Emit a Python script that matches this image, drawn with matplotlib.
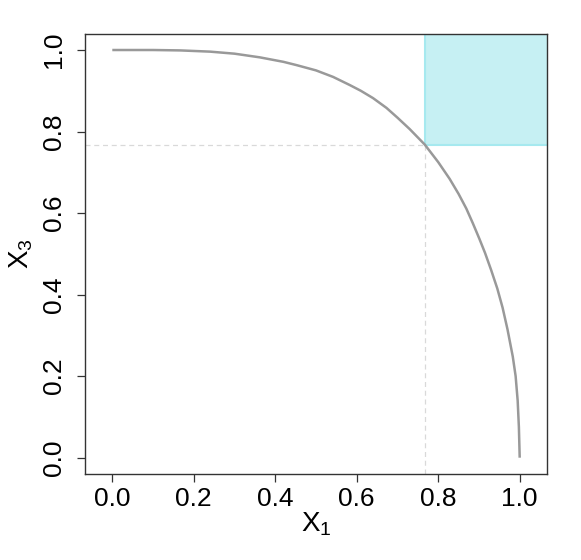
import numpy as np
import matplotlib
matplotlib.use("Agg")
import matplotlib.pyplot as plt
from matplotlib.patches import Rectangle

plt.rcParams['font.family'] = ['Liberation Sans', 'DejaVu Sans']
plt.rcParams['mathtext.fontset'] = 'custom'
plt.rcParams['mathtext.rm'] = 'Liberation Sans'
plt.rcParams['mathtext.it'] = 'Liberation Sans'

# curve points
x1 = [0.0, 0.05, 0.10, 0.167, 0.24, 0.30, 0.362, 0.42, 0.452, 0.50, 0.542,
      0.583, 0.61, 0.64, 0.673, 0.70, 0.730, 0.767, 0.80, 0.828, 0.85, 0.869,
      0.885, 0.901, 0.915, 0.930, 0.945, 0.958, 0.970, 0.983, 0.990, 0.995,
      0.998, 1.0]
x3 = [1.0, 1.0, 1.0, 0.999, 0.996, 0.991, 0.982, 0.971, 0.963, 0.950, 0.934,
      0.914, 0.900, 0.882, 0.858, 0.834, 0.806, 0.768, 0.725, 0.684, 0.647,
      0.611, 0.575, 0.537, 0.502, 0.460, 0.415, 0.368, 0.315, 0.248, 0.200,
      0.140, 0.075, 0.0]

# corner of the shaded region
cx, cy = 0.767, 0.767
ticks = [0.0, 0.2, 0.4, 0.6, 0.8, 1.0]
tick_labels = ["0.0", "0.2", "0.4", "0.6", "0.8", "1.0"]

fig = plt.figure(figsize=(5.81, 5.60), dpi=100)
ax = fig.add_axes([85/581, 86/560, 462/581, 440.3/560])

xlim = (-0.067, 1.067)
ylim = (-0.04, 1.04)
ax.set_xlim(xlim)
ax.set_ylim(ylim)

ax.add_patch(Rectangle((cx, cy), xlim[1] - cx + 0.05, ylim[1] - cy + 0.05,
                       facecolor='#c6f0f3', edgecolor='#a6e9ef', lw=1.5, zorder=1))
ax.plot([xlim[0], cx], [cy, cy], color='#d9d9d9', ls=(0, (4, 3)), lw=0.9, zorder=2)
ax.plot([cx, cx], [ylim[0], cy], color='#d9d9d9', ls=(0, (4, 3)), lw=0.9, zorder=2)
ax.plot(x1, x3, color='#999999', lw=1.8, zorder=3, solid_capstyle='butt',
        solid_joinstyle='round')

ax.set_xticks(ticks)
ax.set_xticklabels(tick_labels)
ax.set_yticks(ticks)
ax.set_yticklabels(tick_labels, rotation=90, va='center')
ax.tick_params(axis='both', length=6, width=0.9, color='#333333', labelsize=19)
ax.tick_params(axis='x', pad=3)
ax.tick_params(axis='y', pad=8)
for s in ax.spines.values():
    s.set_color('#333333')
    s.set_linewidth(1.0)

ax.set_xlabel(r'$\mathrm{X}_1$', fontsize=20, labelpad=0)
ax.set_ylabel(r'$\mathrm{X}_3$', fontsize=20, labelpad=5)

fig.savefig("out.png", dpi=100)
